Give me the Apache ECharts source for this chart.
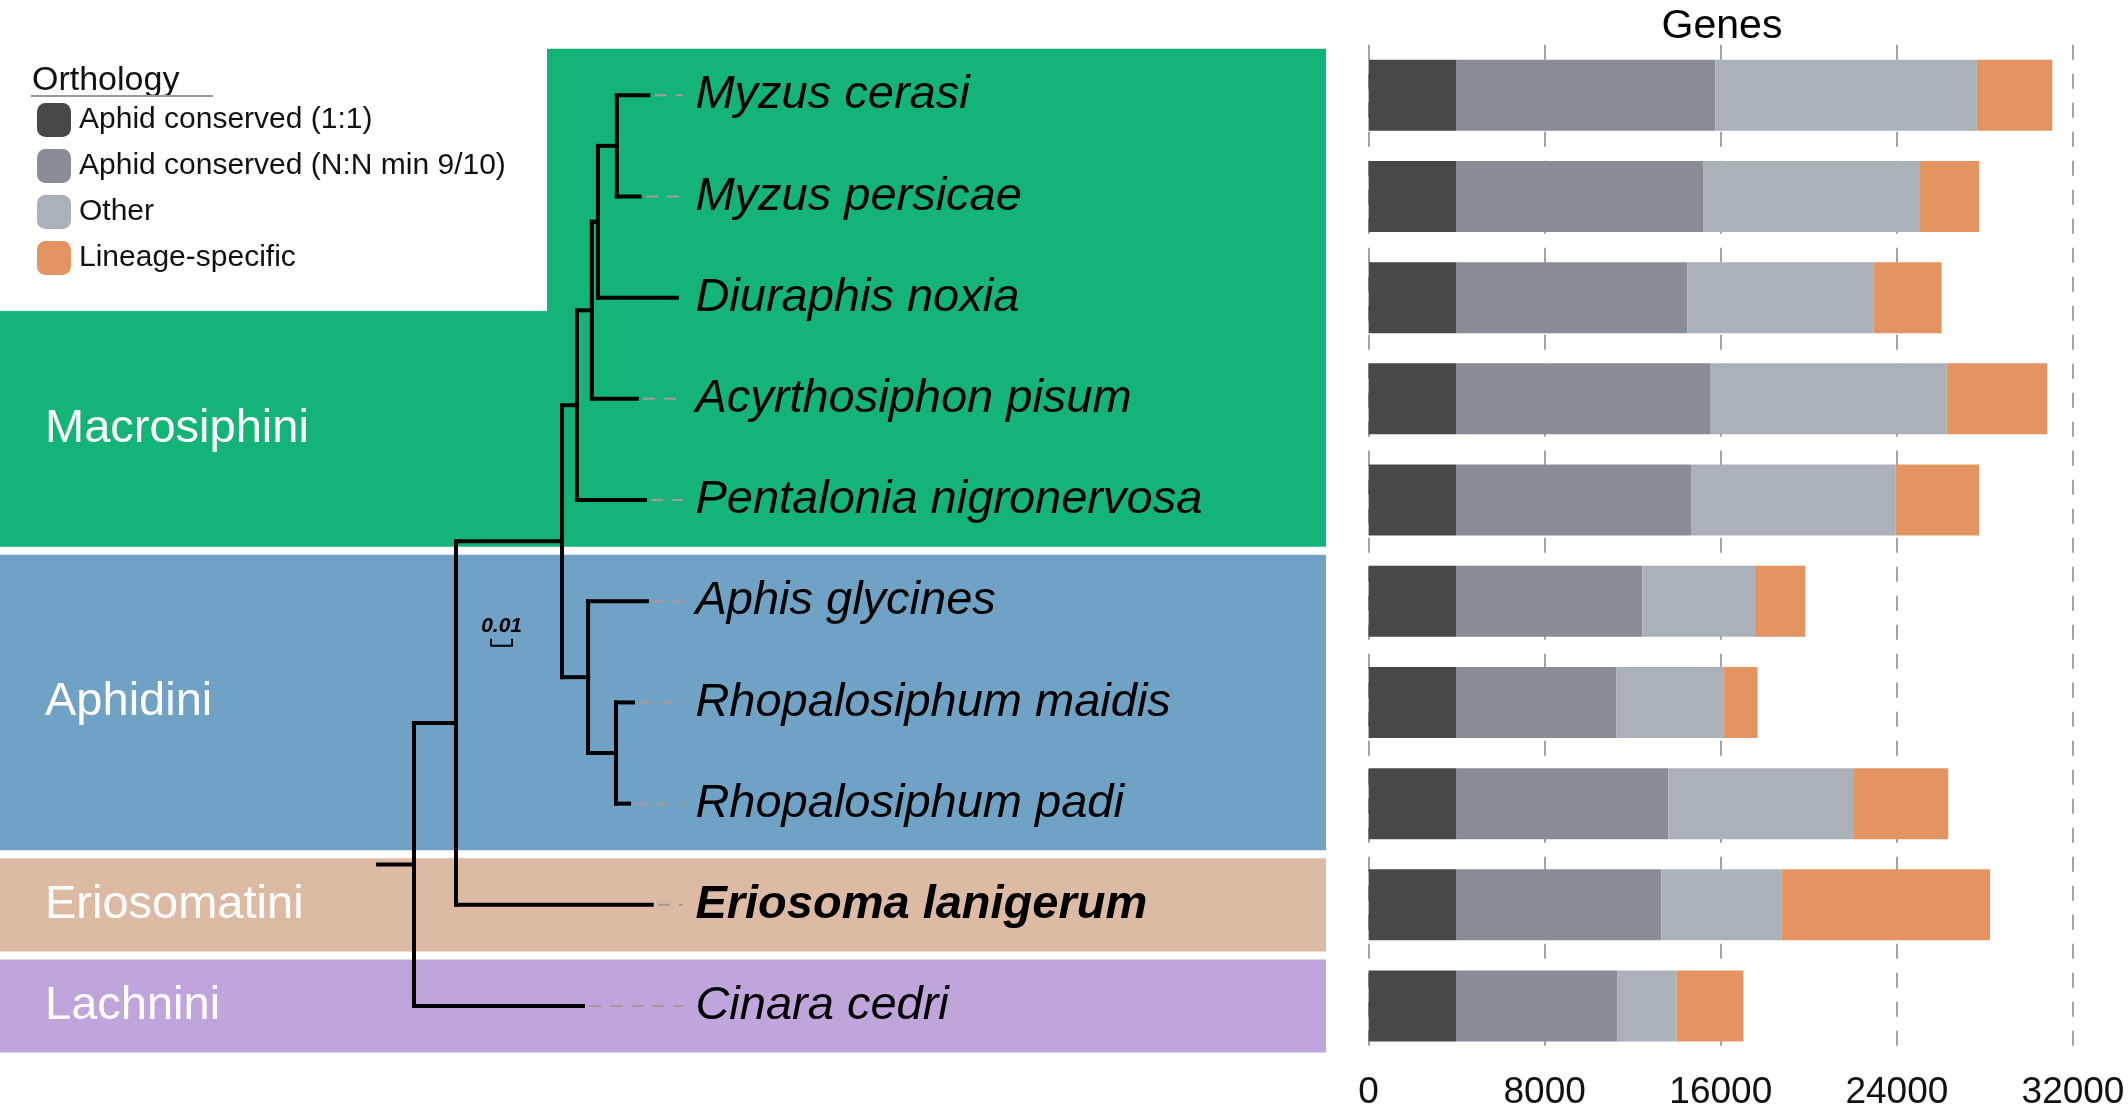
<!DOCTYPE html>
<html><head><meta charset="utf-8">
<script src="https://cdn.jsdelivr.net/npm/echarts@6/dist/echarts.min.js"></script>
<style>html,body{margin:0;padding:0;background:#fff}#c{width:2128px;height:1109px}</style>
</head><body><div id="c"></div>
<script>
// ---------- data ----------
const species = ['Myzus cerasi','Myzus persicae','Diuraphis noxia','Acyrthosiphon pisum','Pentalonia nigronervosa','Aphis glycines','Rhopalosiphum maidis','Rhopalosiphum padi','Eriosoma lanigerum','Cinara cedri'];
const boldSpecies = ['Eriosoma lanigerum'];
const seriesNames = ['Aphid conserved (1:1)','Aphid conserved (N:N min 9/10)','Other','Lineage-specific'];
const conserved11 = [4000,4000,4000,4000,4000,4000,4000,4000,4000,4000];
const conservedNN = [11750,11220,10490,11540,10650,8430,7250,9620,9300,7290];
const otherGenes  = [11880,9830,8440,10720,9300,5120,4860,8390,5470,2700];
const lineageSpec = [3430,2680,3100,4570,3780,2290,1560,4320,9460,3040];
const geneTickInterval = 8000;
const geneMax = 32000;

// phylogeny: node id, parent id, branch length (substitutions/site)
const nodeIds = ['root','Cinara cedri','n1','Eriosoma lanigerum','n2','n3','Pentalonia nigronervosa','n4','Acyrthosiphon pisum','n5','Diuraphis noxia','n6','Myzus cerasi','Myzus persicae','n7','Aphis glycines','n8','Rhopalosiphum maidis','Rhopalosiphum padi'];
const nodeParents = [null,'root','root','n1','n1','n2','n3','n3','n4','n4','n5','n5','n6','n6','n2','n7','n7','n8','n8'];
const branchLengths = [0.0171,0.0805,0.0200,0.0932,0.0505,0.0071,0.0324,0.0071,0.0214,0.0029,0.0376,0.0090,0.0150,0.0108,0.0124,0.0280,0.0133,0.0081,0.0062];
const scaleBarLength = 0.01;
const scaleBarStart = 0.0367;
const scaleBarRow = 5.44;

const clades = ['Macrosiphini','Aphidini','Eriosomatini','Lachnini'];
const cladeFirstRow = [0,5,8,9];
const cladeLastRow = [4,7,8,9];
const cladeColors = ['#14B478','#6FA2C5','#DDBAA3','#BFA5DB'];
const barColors = ['#48484B','#898D95','#AAB1B8','#E39461'];

// ---------- tree layout ----------
const nodes = {};
nodeIds.forEach((id,i)=>{ nodes[id] = {id, parent:nodeParents[i], len:branchLengths[i], children:[]}; });
nodeIds.forEach(id=>{ const n=nodes[id]; if(n.parent) nodes[n.parent].children.push(n); });
function layout(n, px){
  n.x = n.parent ? px + n.len : 0;
  if(!n.children.length){ n.y = species.indexOf(n.id); }
  else {
    n.children.forEach(c=>layout(c, n.x));
    const ys = n.children.map(c=>c.y);
    n.yMin = Math.min(...ys); n.yMax = Math.max(...ys); n.y = (n.yMin+n.yMax)/2;
  }
}
layout(nodes.root, 0);
const branchSegs = [[-nodes.root.len, nodes.root.y, 0, nodes.root.y]];
nodeIds.forEach(id=>{
  const n = nodes[id];
  if(n.parent){ const p = nodes[n.parent]; branchSegs.push([p.x, n.y, n.x, n.y]); }
  if(n.children.length) branchSegs.push([n.x, n.yMin, n.x, n.yMax]);
});
const leaderEnd = 0.128, labelX = 0.134;
const tips = nodeIds.map(id=>nodes[id]).filter(n=>!n.children.length);
const leaderSegs = tips.filter(n=>n.x < leaderEnd-0.006).map(n=>[n.x+0.003, n.y, leaderEnd, n.y]);
const labelData = tips.map(n=>[labelX, n.y, n.id]);

const FONT = "'Liberation Sans', Arial, Helvetica, sans-serif";
const treeMin = -0.19714, treeMax = 0.43429;
const legendBoxRight = 547, legendBoxBottom = 311;

const chart = echarts.init(document.getElementById('c'));
const option = {
  animation:false,
  backgroundColor:'#fff',
  grid:[
    {left:0, width:1326, top:44.7, bottom:52.4, containLabel:false, outerBoundsMode:'none'},
    {left:1368.6, right:55, top:44.7, bottom:52.4, containLabel:false, outerBoundsMode:'none'}
  ],
  xAxis:[
    {gridIndex:0, type:'value', min:treeMin, max:treeMax, show:false},
    {gridIndex:1, type:'value', min:0, max:geneMax, interval:geneTickInterval,
     axisLine:{show:false}, axisTick:{show:false},
     axisLabel:{fontSize:37, color:'#111', margin:18, fontFamily:FONT, formatter:v=>String(v)},
     splitLine:{show:true, lineStyle:{type:[15,14], color:'#8c8c8c', width:1.6}}}
  ],
  yAxis:[
    {gridIndex:0, type:'value', min:-0.5, max:9.5, inverse:true, show:false},
    {gridIndex:1, type:'category', data:species, inverse:true,
     axisLine:{show:false}, axisTick:{show:false}, axisLabel:{show:false}, splitLine:{show:false}}
  ],
  legend:{
    orient:'vertical', left:32, top:98, itemWidth:34, itemHeight:34, itemGap:12,
    icon:'roundRect', selectedMode:false, data:seriesNames,
    textStyle:{fontSize:30, color:'#111', fontFamily:FONT, padding:[0,0,0,3]}
  },
  graphic:[
    {type:'text', x:1722, y:27, style:{text:'Genes', fontSize:41, fill:'#000', align:'center', verticalAlign:'middle', fontFamily:FONT}},
    {type:'text', x:32, y:81, style:{text:'Orthology', fontSize:34, fill:'#111', align:'left', verticalAlign:'middle', fontFamily:FONT}},
    {type:'line', shape:{x1:31, y1:96, x2:213, y2:96}, style:{stroke:'#9a9a9a', lineWidth:2}}
  ],
  series:[
    {type:'custom', xAxisIndex:0, yAxisIndex:0, z:1, clip:false,
     data:clades.map((c,i)=>[cladeFirstRow[i], cladeLastRow[i], i]),
     encode:{y:[0,1]},
     renderItem:(params, api)=>{
       const i = params.dataIndex;
       const cs = params.coordSys;
       const top = api.coord([0, api.value(0)-0.5])[1] + 4;
       const bottom = api.coord([0, api.value(1)+0.5])[1] - 4;
       const left = cs.x, right = cs.x + cs.width;
       let points, labelY;
       if(i===0){
         points = [[left,legendBoxBottom],[legendBoxRight,legendBoxBottom],[legendBoxRight,top],[right,top],[right,bottom],[left,bottom]];
         labelY = (legendBoxBottom+bottom)/2;
       } else {
         points = [[left,top],[right,top],[right,bottom],[left,bottom]];
         labelY = (top+bottom)/2;
       }
       return {type:'group', children:[
         {type:'polygon', shape:{points}, style:{fill:cladeColors[i]}},
         {type:'text', style:{text:clades[i], x:left+45, y:labelY, fill:'#fff', fontSize:47, fontFamily:FONT, align:'left', verticalAlign:'middle'}}
       ]};
     }},
    {type:'custom', xAxisIndex:0, yAxisIndex:0, z:3, clip:false, data:leaderSegs, encode:{x:[0,2], y:[1,3]},
     renderItem:(params, api)=>{
       const p1 = api.coord([api.value(0), api.value(1)]);
       const p2 = api.coord([api.value(2), api.value(3)]);
       return {type:'line', shape:{x1:p1[0],y1:p1[1],x2:p2[0],y2:p2[1]}, style:{stroke:'#a89a9a', lineWidth:2, lineDash:[12,9]}};
     }},
    {type:'custom', xAxisIndex:0, yAxisIndex:0, z:4, clip:false, data:branchSegs, encode:{x:[0,2], y:[1,3]},
     renderItem:(params, api)=>{
       const p1 = api.coord([api.value(0), api.value(1)]);
       const p2 = api.coord([api.value(2), api.value(3)]);
       return {type:'line', shape:{x1:p1[0],y1:p1[1],x2:p2[0],y2:p2[1]}, style:{stroke:'#000', lineWidth:4, lineCap:'square'}};
     }},
    {type:'custom', xAxisIndex:0, yAxisIndex:0, z:5, clip:false, data:labelData, encode:{x:0, y:1},
     renderItem:(params, api)=>{
       const p = api.coord([api.value(0), api.value(1)]);
       const name = labelData[params.dataIndex][2];
       const bold = boldSpecies.indexOf(name) >= 0;
       return {type:'text', style:{text:name, x:p[0], y:p[1], fill:'#000', fontSize:47, fontStyle:'italic', fontWeight:bold?'bold':'normal', fontFamily:FONT, align:'left', verticalAlign:'middle'}};
     }},
    {type:'custom', xAxisIndex:0, yAxisIndex:0, z:5, clip:false, data:[[scaleBarStart, scaleBarRow]], encode:{x:0, y:1},
     renderItem:(params, api)=>{
       const a = api.coord([api.value(0), api.value(1)]);
       const b = api.coord([api.value(0)+scaleBarLength, api.value(1)]);
       return {type:'group', children:[
         {type:'polyline', shape:{points:[[a[0],a[1]-7],[a[0],a[1]],[b[0],b[1]],[b[0],b[1]-7]]}, style:{stroke:'#000', lineWidth:1.8, fill:null}},
         {type:'text', style:{text:String(scaleBarLength), x:(a[0]+b[0])/2, y:a[1]-20, fill:'#000', fontSize:21, fontStyle:'italic', fontWeight:'bold', fontFamily:FONT, align:'center', verticalAlign:'middle'}}
       ]};
     }},
    {name:seriesNames[0], type:'bar', stack:'g', xAxisIndex:1, yAxisIndex:1, barWidth:71, itemStyle:{color:barColors[0]}, data:conserved11},
    {name:seriesNames[1], type:'bar', stack:'g', xAxisIndex:1, yAxisIndex:1, barWidth:71, itemStyle:{color:barColors[1]}, data:conservedNN},
    {name:seriesNames[2], type:'bar', stack:'g', xAxisIndex:1, yAxisIndex:1, barWidth:71, itemStyle:{color:barColors[2]}, data:otherGenes},
    {name:seriesNames[3], type:'bar', stack:'g', xAxisIndex:1, yAxisIndex:1, barWidth:71, itemStyle:{color:barColors[3]}, data:lineageSpec}
  ]
};
chart.setOption(option);
</script></body></html>
